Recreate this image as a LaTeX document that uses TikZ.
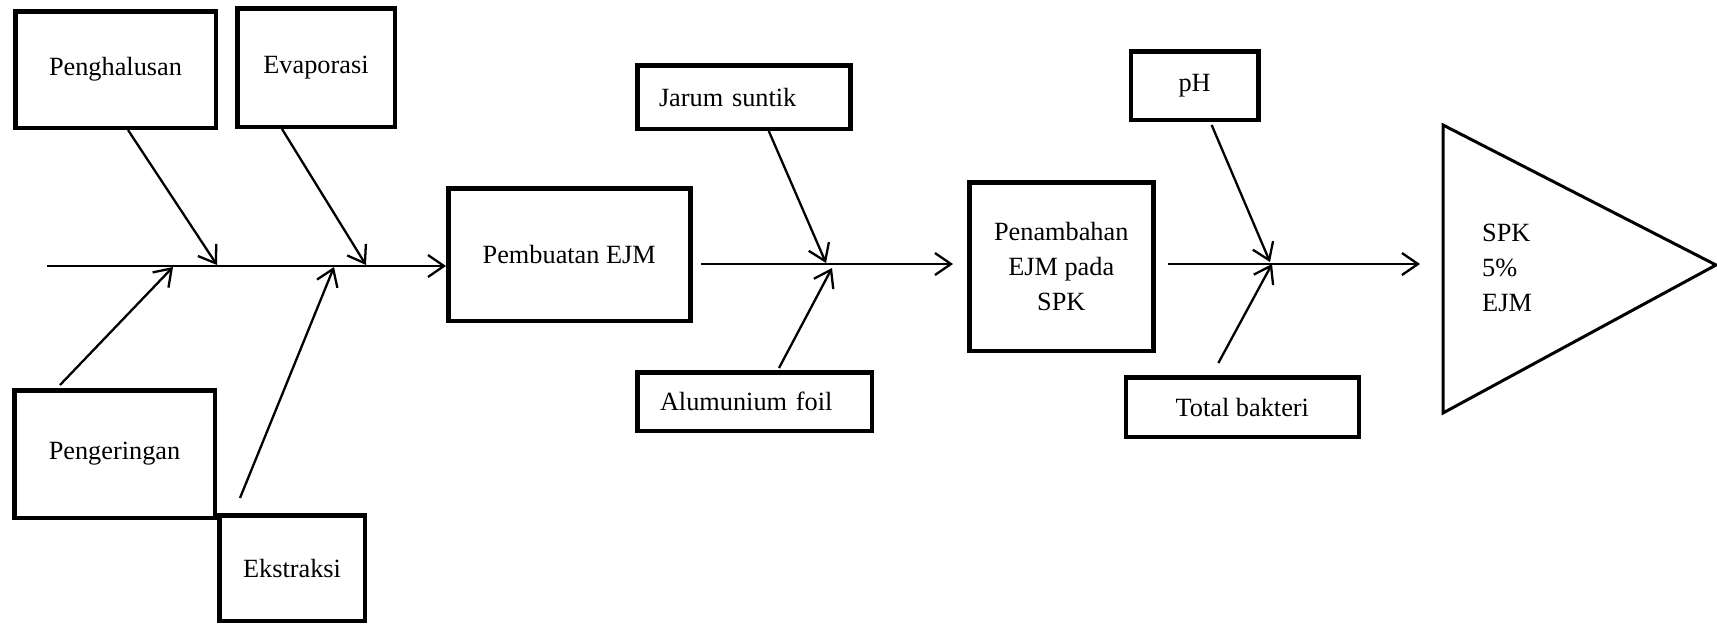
\documentclass[tikz,border=0pt]{standalone}
\usepackage{fontspec}
\setmainfont{Liberation Serif}
\usetikzlibrary{arrows.meta}
\begin{document}
\begin{tikzpicture}[x=1pt,y=-1pt,
  txt/.style={font=\fontsize{26.3}{35}\selectfont},
  box/.style={txt, draw, line width=4.5pt, rectangle, inner sep=0pt},
  arr/.style={line width=2.3pt, -{Straight Barb[length=16pt,width=22pt,line width=2.3pt]}}]
\useasboundingbox (0,0) rectangle (1717,625);
% boxes
\node[box, minimum width=200.5pt, minimum height=116.5pt] (halus) at (115.5,69.5) {Penghalusan};
\node[box, minimum width=157.5pt, minimum height=118.5pt] (evap) at (316,67.5) {Evaporasi};
\node[box, minimum width=200.5pt, minimum height=127.5pt] (kering) at (114.5,454) {Pengeringan};
\node[box, minimum width=145.5pt, minimum height=105.5pt] (ekstr) at (292,568) {Ekstraksi};
\node[box, minimum width=242pt, minimum height=132.5pt] (pemb) at (569.25,254.5) {Pembuatan EJM};
\node[box, minimum width=213pt, minimum height=63.5pt, text width=169.5pt, align=left] (jarum) at (743.75,97) {Jarum suntik};
\node[box, minimum width=234.5pt, minimum height=58.5pt, text width=189pt, align=left] (alu) at (754.5,401.5) {Alumunium foil};
\node[box, minimum width=184pt, minimum height=168.5pt, align=center] (tamb) at (1061.25,266.5) {Penambahan\\EJM pada\\SPK};
\node[box, minimum width=127.6pt, minimum height=68.5pt] (ph) at (1194.65,85.5) {pH};
\node[box, minimum width=232.8pt, minimum height=59.5pt] (bakt) at (1242.35,407) {Total bakteri};
% result triangle
\coordinate (t1) at (1443,125);
\coordinate (t2) at (1716,265);
\coordinate (t3) at (1443,413);
\draw[line width=3pt, line join=miter] (t1) -- (t2) -- (t3) -- cycle;
\node[txt, anchor=west, align=left, inner sep=0pt] (hasil) at (1482,268) {SPK\\5\%\\EJM};
% spines
\coordinate (s1) at (47,266);
\coordinate (s2a) at (701,264);
\coordinate (s2b) at (953,264);
\coordinate (s3a) at (1168,264);
\coordinate (s3b) at (1420,264);
\draw[arr] (s1) -- (s1 -| pemb.west);
\draw[arr] (s2a) -- (s2b);
\draw[arr] (s3a) -- (s3b);
% branch ends
\coordinate (j1) at (217,265);
\coordinate (j2) at (366,265);
\coordinate (j3) at (173,267);
\coordinate (j4) at (334,267);
\coordinate (j5) at (826,263);
\coordinate (j6) at (832,268);
\coordinate (j7) at (1270,262);
\coordinate (j8) at (1272,264);
\draw[arr] ([xshift=12.5pt]halus.south) -- (j1);
\draw[arr] ([xshift=-34pt]evap.south) -- (j2);
\draw[arr] ([xshift=-54.5pt,yshift=3pt]kering.north) -- (j3);
\draw[arr] ([xshift=-52pt,yshift=15pt]ekstr.north) -- (j4);
\draw[arr] ([xshift=25pt]jarum.south) -- (j5);
\draw[arr] ([xshift=24.5pt,yshift=2pt]alu.north) -- (j6);
\draw[arr] ([xshift=17pt,yshift=-3pt]ph.south) -- (j7);
\draw[arr] ([xshift=-24pt,yshift=12pt]bakt.north) -- (j8);
\end{tikzpicture}
\end{document}
